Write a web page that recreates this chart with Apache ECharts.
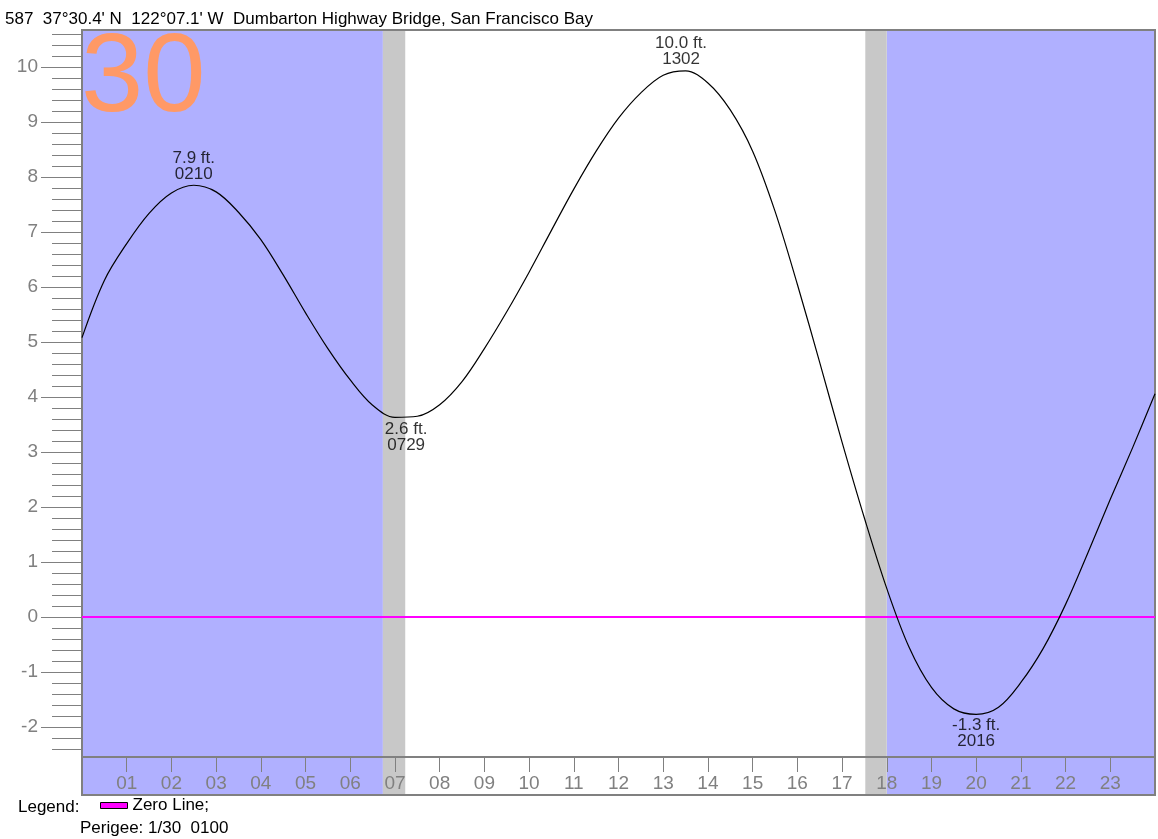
<!DOCTYPE html>
<html><head><meta charset="utf-8">
<script src="https://cdn.jsdelivr.net/npm/echarts@6/dist/echarts.min.js"></script>
<style>html,body{margin:0;padding:0;background:#fff}#c{width:1158px;height:839px}</style>
</head><body><div id="c"></div>
<script>
// ---- data ----
const titleText = "587  37°30.4' N  122°07.1' W  Dumbarton Highway Bridge, San Francisco Bay";
const dayLabel = "30";
const hours   = [0, 0.5, 1, 1.5, 2, 2.5, 3, 3.5, 4, 4.5, 5, 5.5, 6, 6.5, 7, 7.5, 8, 8.5, 9, 9.5, 10, 10.5, 11, 11.5, 12, 12.5, 13, 13.5, 14, 14.5, 15, 15.5, 16, 16.5, 17, 17.5, 18, 18.5, 19, 19.5, 20, 20.5, 21, 21.5, 22, 22.5, 23, 23.5, 24];
const heights = [5.08, 6.12, 6.79, 7.34, 7.71, 7.85, 7.73, 7.36, 6.86, 6.22, 5.53, 4.88, 4.31, 3.85, 3.63, 3.65, 3.86, 4.28, 4.88, 5.55, 6.27, 7.03, 7.78, 8.47, 9.07, 9.53, 9.85, 9.93, 9.71, 9.22, 8.47, 7.38, 6.05, 4.63, 3.18, 1.8, 0.52, -0.55, -1.28, -1.67, -1.77, -1.64, -1.19, -0.57, 0.23, 1.17, 2.14, 3.08, 4.06];
const extremaHours = [2.5, 7.25, 13.4, 20.0];
const extremaCurve = [7.85, 3.61, 9.94, -1.77];
const extremaHeightText = ["7.9 ft.", "2.6 ft.", "10.0 ft.", "-1.3 ft."];
const extremaTimeText = ["0210", "0729", "1302", "2016"];
const extremaSide = ["top", "bottom", "top", "bottom"];
const nightBands = [[0, 6.73], [18.0, 24]];
const twilightBands = [[6.73, 7.23], [17.52, 18.0]];
const hourTicks = [1, 2, 3, 4, 5, 6, 7, 8, 9, 10, 11, 12, 13, 14, 15, 16, 17, 18, 19, 20, 21, 22, 23];
const majorYTicks = [-2, -1, 0, 1, 2, 3, 4, 5, 6, 7, 8, 9, 10];
const minorStepsPerUnit = 5;
const zeroLevel = 0;
const zeroLineName = "Zero Line";
const legendLabel = "Legend:";
const perigeeText = "Perigee: 1/30  0100";
const yMin = -2.545, yMax = 10.673;

// ---- build ----
const minorYTicks = [];
for (let k = -2.4 * minorStepsPerUnit; k <= 10.6 * minorStepsPerUnit + 1e-9; k++) {
  minorYTicks.push(Math.round(k / minorStepsPerUnit * 10) / 10);
}
const FONT = "'Liberation Sans', Arial, sans-serif";
const NIGHT = '#B0B0FF', TWI = '#C8C8C8', GRAY = '#808080';
const bandsArea = [
  ...nightBands.map(b => [{xAxis: b[0], itemStyle: {color: NIGHT}}, {xAxis: b[1]}]),
  ...twilightBands.map(b => [{xAxis: b[0], itemStyle: {color: TWI}}, {xAxis: b[1]}])
];
const tide = hours.map((h, i) => [h, heights[i]]);
const extrema = extremaHours.map((h, i) => ({
  value: [h, extremaCurve[i]],
  label: {position: extremaSide[i]}
}));

const chart = echarts.init(document.getElementById('c'), null, {renderer: 'canvas'});
chart.setOption({
  animation: false,
  textStyle: {fontFamily: FONT},
  grid: [
    {left: 82, right: 3, top: 30, height: 727, show: true, borderColor: GRAY, borderWidth: 2},
    {left: 82, right: 3, top: 757, height: 38, show: true, borderColor: GRAY, borderWidth: 2}
  ],
  xAxis: [
    {gridIndex: 0, type: 'value', min: 0, max: 24, show: false},
    {gridIndex: 1, type: 'value', min: 0, max: 24, position: 'top',
      axisLine: {show: false, onZero: false}, splitLine: {show: false},
      axisTick: {show: true, inside: true, length: 15, lineStyle: {color: GRAY, width: 1}, customValues: hourTicks},
      axisLabel: {show: true, inside: true, margin: 17, color: GRAY, fontSize: 19,
        customValues: hourTicks, formatter: v => String(v).padStart(2, '0')}}
  ],
  yAxis: [
    {gridIndex: 0, type: 'value', min: yMin, max: yMax, position: 'left',
      axisLine: {show: false}, splitLine: {show: false},
      axisTick: {show: true, length: 41, lineStyle: {color: GRAY, width: 1}, customValues: majorYTicks},
      axisLabel: {show: true, margin: 44, color: GRAY, fontSize: 19, customValues: majorYTicks}},
    {gridIndex: 0, type: 'value', min: yMin, max: yMax, position: 'left',
      axisLine: {show: false}, splitLine: {show: false},
      axisTick: {show: true, length: 30, lineStyle: {color: GRAY, width: 1}, customValues: minorYTicks},
      axisLabel: {show: false}},
    {gridIndex: 1, type: 'value', min: 0, max: 1, show: false}
  ],
  legend: {
    data: [zeroLineName], left: 95, top: 792, icon: 'rect', itemWidth: 27, itemHeight: 6, itemGap: 5,
    itemStyle: {color: '#FF00FF', borderColor: '#000', borderWidth: 1},
    textStyle: {fontSize: 17, color: '#000', fontFamily: FONT},
    formatter: n => n + ';', selectedMode: false
  },
  graphic: [
    {type: 'text', x: 5, y: 19, z: 10, style: {text: titleText, font: "17px " + FONT, fill: '#000', verticalAlign: 'middle'}},
    {type: 'text', x: 81, y: 80, z: 10, style: {text: dayLabel, font: "112px " + FONT, fill: '#FF9966', verticalAlign: 'middle'}},
    {type: 'text', x: 18, y: 807, z: 10, style: {text: legendLabel, font: "17px " + FONT, fill: '#000', verticalAlign: 'middle'}},
    {type: 'text', x: 80, y: 828, z: 10, style: {text: perigeeText, font: "17px " + FONT, fill: '#000', verticalAlign: 'middle'}}
  ],
  series: [
    {type: 'line', xAxisIndex: 0, yAxisIndex: 0, data: [], silent: true, z: -1,
      markArea: {silent: true, z: -1, data: bandsArea}},
    {type: 'line', xAxisIndex: 1, yAxisIndex: 2, data: [], silent: true, z: -1,
      markArea: {silent: true, z: -1, data: bandsArea}},
    {type: 'line', name: zeroLineName, xAxisIndex: 0, yAxisIndex: 0, data: [[0, zeroLevel], [24, zeroLevel]],
      symbol: 'none', lineStyle: {color: '#FF00FF', width: 2}, itemStyle: {color: '#FF00FF'}, z: 3},
    {type: 'line', name: 'Tide', xAxisIndex: 0, yAxisIndex: 0, data: tide, smooth: 0.35,
      symbol: 'none', lineStyle: {color: '#000', width: 1.2}, z: 4},
    {type: 'scatter', name: 'Extrema', xAxisIndex: 0, yAxisIndex: 0, data: extrema, symbolSize: 0, z: 5,
      label: {show: true, distance: 3, color: '#000', fontSize: 17, lineHeight: 16, fontFamily: FONT, align: 'center',
        formatter: p => extremaHeightText[p.dataIndex] + '\n' + extremaTimeText[p.dataIndex]}}
  ]
});
</script></body></html>
